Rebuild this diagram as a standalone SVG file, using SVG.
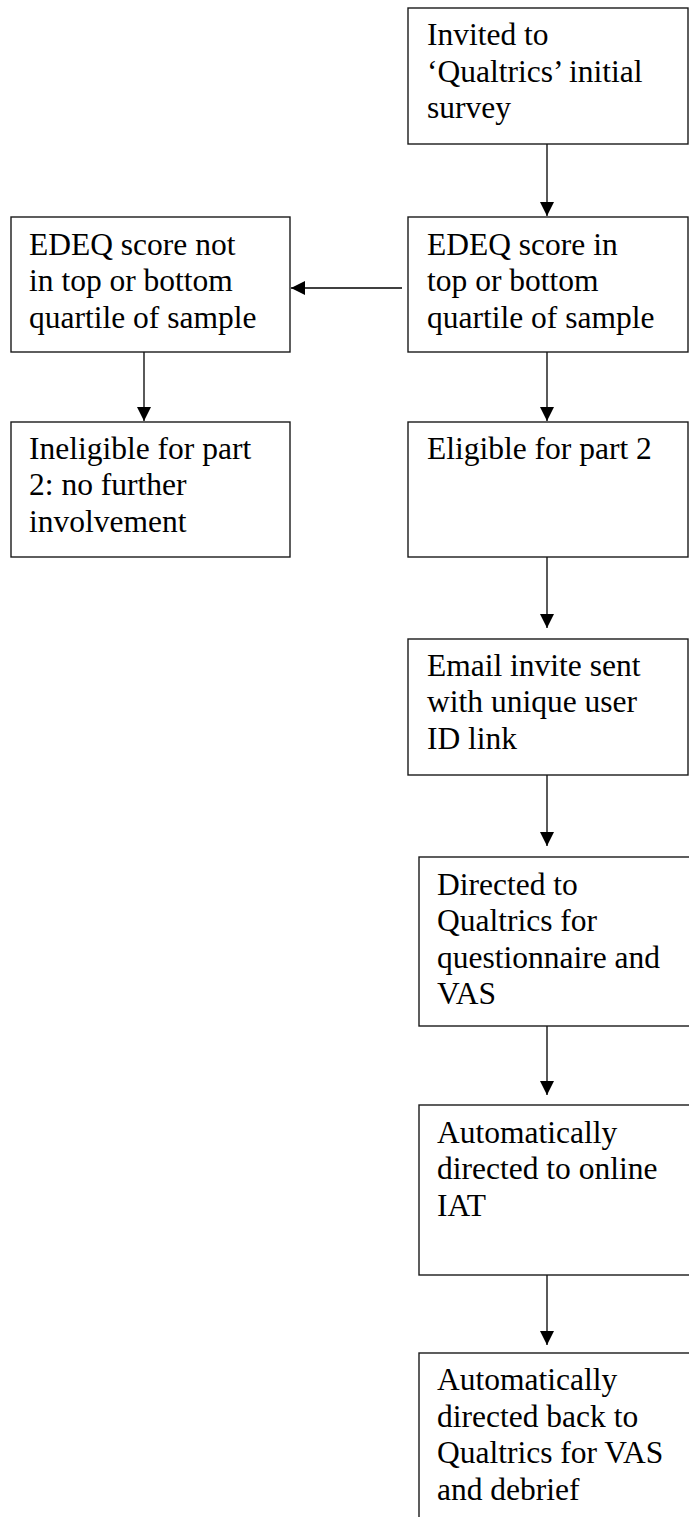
<svg xmlns="http://www.w3.org/2000/svg" width="689" height="1517" viewBox="0 0 689 1517">
  <style>
    .box { fill: #fff; stroke: #1a1a1a; stroke-width: 1.4; }
    .lbl { font-family: 'Liberation Serif', 'DejaVu Serif', serif; font-size: 31.5px; fill: #000; }
    .edge { stroke: #000; stroke-width: 1.3; fill: none; }
  </style>
  <defs>
    <marker id="arrow" markerUnits="userSpaceOnUse" markerWidth="14" markerHeight="14" refX="14" refY="7" orient="auto">
      <path d="M0,0 L14,7 L0,14 Z" fill="#000"/>
    </marker>
  </defs>

  <rect width="689" height="1517" fill="#fff"/>

  <g id="connectors">
    <line class="edge" x1="547" y1="144" x2="547" y2="216" marker-end="url(#arrow)"/>
    <line class="edge" x1="402" y1="288" x2="291" y2="288" marker-end="url(#arrow)"/>
    <line class="edge" x1="144" y1="352" x2="144" y2="421" marker-end="url(#arrow)"/>
    <line class="edge" x1="547" y1="352" x2="547" y2="421" marker-end="url(#arrow)"/>
    <line class="edge" x1="547" y1="557" x2="547" y2="628" marker-end="url(#arrow)"/>
    <line class="edge" x1="547" y1="775" x2="547" y2="846" marker-end="url(#arrow)"/>
    <line class="edge" x1="547" y1="1026" x2="547" y2="1095" marker-end="url(#arrow)"/>
    <line class="edge" x1="547" y1="1275" x2="547" y2="1345" marker-end="url(#arrow)"/>
  </g>

  <g id="invited">
    <rect class="box" x="408" y="8" width="280" height="136"/>
    <text class="lbl" x="427" y="45">Invited to</text>
    <text class="lbl" x="427" y="82">‘Qualtrics’ initial</text>
    <text class="lbl" x="427" y="118">survey</text>
  </g>

  <g id="edeq-in">
    <rect class="box" x="408" y="217" width="280" height="135"/>
    <text class="lbl" x="427" y="255">EDEQ score in</text>
    <text class="lbl" x="427" y="291">top or bottom</text>
    <text class="lbl" x="427" y="328">quartile of sample</text>
  </g>

  <g id="edeq-out">
    <rect class="box" x="11" y="217" width="279" height="135"/>
    <text class="lbl" x="29" y="255">EDEQ score not</text>
    <text class="lbl" x="29" y="291">in top or bottom</text>
    <text class="lbl" x="29" y="328">quartile of sample</text>
  </g>

  <g id="ineligible">
    <rect class="box" x="11" y="422" width="279" height="135"/>
    <text class="lbl" x="29" y="459">Ineligible for part</text>
    <text class="lbl" x="29" y="495">2: no further</text>
    <text class="lbl" x="29" y="532">involvement</text>
  </g>

  <g id="eligible">
    <rect class="box" x="408" y="422" width="280" height="135"/>
    <text class="lbl" x="427" y="459">Eligible for part 2</text>
  </g>

  <g id="email">
    <rect class="box" x="408" y="639" width="280" height="136"/>
    <text class="lbl" x="427" y="676">Email invite sent</text>
    <text class="lbl" x="427" y="712">with unique user</text>
    <text class="lbl" x="427" y="749">ID link</text>
  </g>

  <g id="questionnaire">
    <rect class="box" x="419" y="857" width="290" height="169"/>
    <text class="lbl" x="437" y="895">Directed to</text>
    <text class="lbl" x="437" y="931">Qualtrics for</text>
    <text class="lbl" x="437" y="968">questionnaire and</text>
    <text class="lbl" x="437" y="1004">VAS</text>
  </g>

  <g id="iat">
    <rect class="box" x="419" y="1105" width="290" height="170"/>
    <text class="lbl" x="437" y="1143">Automatically</text>
    <text class="lbl" x="437" y="1179">directed to online</text>
    <text class="lbl" x="437" y="1216">IAT</text>
  </g>

  <g id="debrief">
    <rect class="box" x="419" y="1353" width="290" height="200"/>
    <text class="lbl" x="437" y="1390">Automatically</text>
    <text class="lbl" x="437" y="1427">directed back to</text>
    <text class="lbl" x="437" y="1463">Qualtrics for VAS</text>
    <text class="lbl" x="437" y="1500">and debrief</text>
  </g>
</svg>
